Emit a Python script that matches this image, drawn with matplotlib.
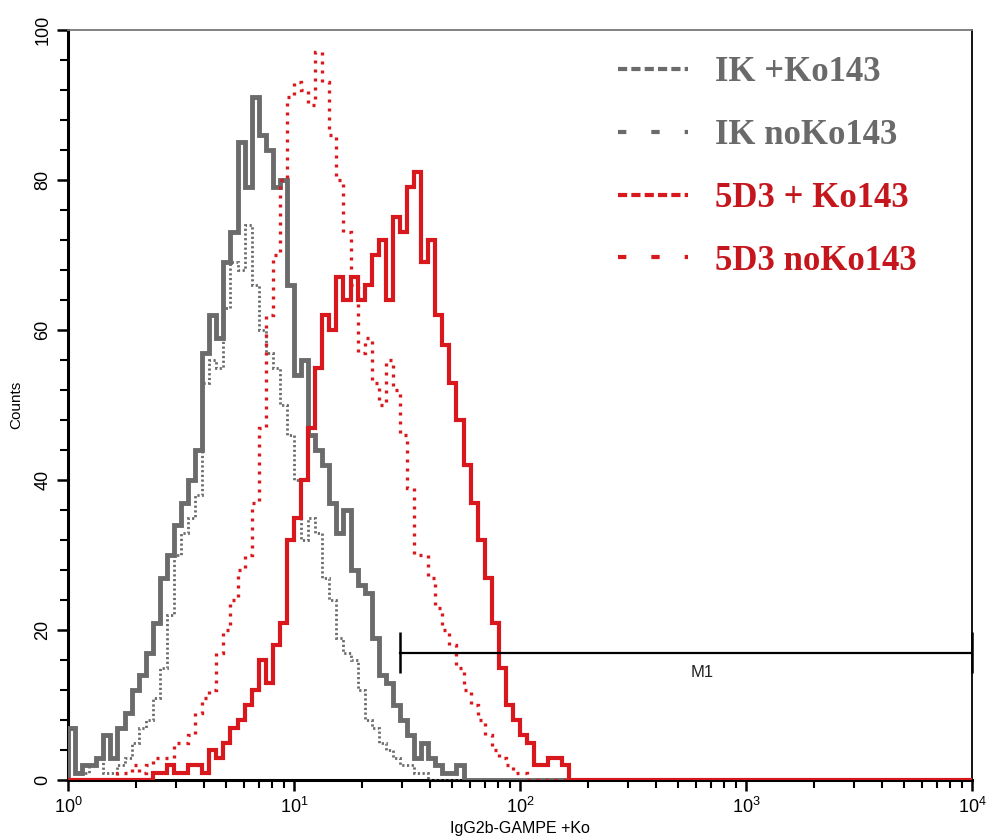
import numpy as np
import matplotlib.pyplot as plt
from matplotlib.lines import Line2D
from matplotlib.ticker import MultipleLocator, LogLocator

plt.rcParams['font.family'] = ['Liberation Sans', 'DejaVu Sans']
plt.rcParams['mathtext.default'] = 'regular'

# histogram channels: 32 per decade over 10^0 .. 10^4
bins_per_decade = 32
n_bins = 4 * bins_per_decade

# counts, starting at channel *_start
ik_ko_start = 0
ik_ko = [7, 1, 2, 2, 3, 6, 3, 7, 9, 12, 14, 17, 21, 27, 30, 34, 37, 40, 44, 57,
         62, 59, 69, 73, 85, 79, 91, 86, 84, 79, 80, 66, 54, 56, 46, 44, 42, 37, 33, 36,
         28, 26, 25, 19, 14, 13, 10, 8, 6, 3, 5, 3, 2, 1, 1, 2]

ik_noko_start = 2
ik_noko = [1, 2, 3, 1, 1, 2, 3, 5, 7, 8, 11, 15, 22, 30, 33, 35, 38, 53, 56, 55,
           63, 69, 68, 74, 66, 60, 57, 55, 50, 46, 40, 32, 35, 33, 27, 24, 19, 17, 16, 12,
           8, 7, 5, 4, 3, 2, 2, 1, 1]

d53_ko_start = 12
d53_ko = [1, 1, 2, 1, 1, 2, 2, 1, 4, 3, 5, 7, 8, 10, 12, 16, 13, 18, 21, 32,
          35, 40, 47, 55, 62, 60, 67, 64, 67, 64, 66, 70, 72, 64, 75, 73, 79, 81, 69, 72,
          62, 58, 53, 48, 42, 37, 32, 27, 21, 15, 10, 8, 6, 5, 2, 2, 3, 3, 2]

d53_noko_start = 7
d53_noko = [1, 1, 2, 1, 2, 3, 3, 3, 5, 5, 6, 9, 11, 12, 17, 20, 24, 28, 30, 37,
            47, 62, 70, 80, 91, 93, 92, 90, 97, 93, 86, 80, 73, 66, 57, 59, 53, 50, 56, 52,
            46, 39, 30, 30, 27, 23, 20, 18, 15, 12, 10, 8, 6, 4, 3, 2, 1, 1]

labels = ['IK +Ko143', 'IK noKo143', '5D3 + Ko143', '5D3 noKo143']

# marker M1
m1_lo, m1_hi, m1_y = 29.5, 1e4, 17

gray = '#6b6b6b'
red = '#d8181c'
gray_txt = '#6a6a6a'
red_txt = '#c4161c'


def full_counts(start, values):
    c = np.zeros(n_bins)
    c[start:start + len(values)] = values
    return c


edges = 10 ** (np.arange(n_bins + 1) / bins_per_decade)

fig = plt.figure(figsize=(9.86, 8.4), dpi=100)
ax = fig.add_axes([0.069, 0.0714, 0.9168, 0.8929])

ax.stairs(full_counts(ik_ko_start, ik_ko), edges, color=gray, lw=3.5, zorder=3)
ax.stairs(full_counts(ik_noko_start, ik_noko), edges, color=gray, lw=2.0,
          linestyle=(0, (0.8, 0.9)), zorder=3)
ax.stairs(full_counts(d53_ko_start, d53_ko), edges, color=red, lw=3.0, zorder=4)
ax.stairs(full_counts(d53_noko_start, d53_noko), edges, color=red, lw=2.4,
          linestyle=(0, (0.9, 1.8)), zorder=4)

# M1 gate marker
ax.plot([m1_lo, m1_hi], [m1_y, m1_y], color='black', lw=1.6, clip_on=False, zorder=5)
ax.vlines([m1_lo, m1_hi], m1_y - 2.7, m1_y + 2.7, color='black', lw=1.8,
          clip_on=False, zorder=5)
ax.text(640, m1_y - 2.6, 'M1', ha='center', va='center', fontsize=12, color='#222222')

ax.set_xscale('log')
ax.set_xlim(1, 1e4)
ax.set_ylim(0, 100)
ax.yaxis.set_major_locator(MultipleLocator(20))
ax.yaxis.set_minor_locator(MultipleLocator(4))
ax.xaxis.set_minor_locator(LogLocator(base=10, subs=np.arange(2, 10)))

ax.tick_params(which='major', direction='out', length=8, width=1.8, labelsize=13, pad=4)
ax.tick_params(which='minor', direction='out', length=6, width=1.5)
plt.setp(ax.get_yticklabels(), rotation=90, va='center')

ax.spines['left'].set_linewidth(2.2)
ax.spines['bottom'].set_linewidth(2.2)
ax.spines['right'].set_linewidth(1.3)
ax.spines['top'].set_linewidth(1.3)
ax.spines['top'].set_color('#777777')

ax.set_ylabel('Counts', fontsize=11, labelpad=8)
ax.set_xlabel('IgG2b-GAMPE +Ko', fontsize=11.5, labelpad=3)

handles = [
    Line2D([], [], color=gray, lw=3, linestyle=(0, (2.2, 1.0))),
    Line2D([], [], color=gray, lw=3, linestyle=(0, (2.0, 6.0))),
    Line2D([], [], color=red, lw=3, linestyle=(0, (2.2, 1.0))),
    Line2D([], [], color=red, lw=3, linestyle=(0, (2.0, 6.0))),
]
ax.legend(handles, labels, loc='upper left', bbox_to_anchor=(0.574, 1.007),
          frameon=False, handlelength=2.0, handletextpad=0.78, labelspacing=0.86,
          labelcolor=[gray_txt, gray_txt, red_txt, red_txt],
          prop={'family': 'Liberation Serif', 'weight': 'bold', 'size': 25})

fig.savefig('out.png', dpi=100)
